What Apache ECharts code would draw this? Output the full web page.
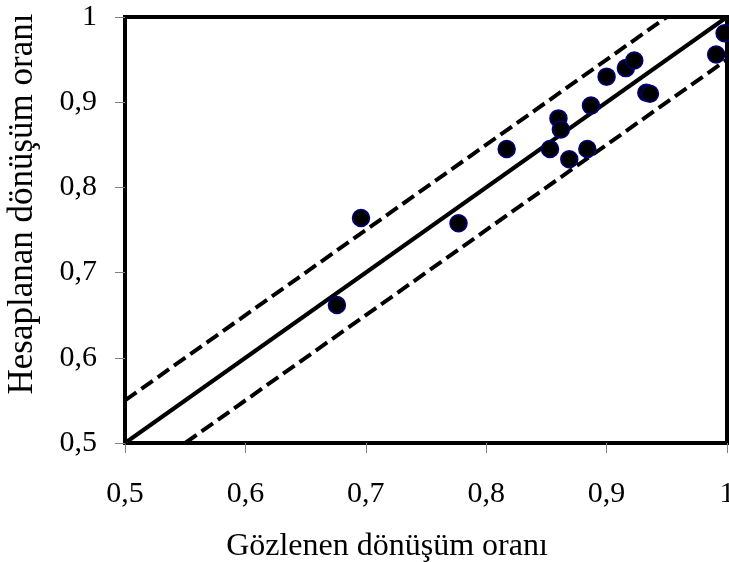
<!DOCTYPE html>
<html>
<head>
<meta charset="utf-8">
<script src="https://cdn.jsdelivr.net/npm/echarts@6/dist/echarts.min.js"></script>
<style>
  html, body { margin: 0; padding: 0; background: #fff; }
  #chart { width: 729px; height: 562px; }
</style>
</head>
<body>
<div id="chart"></div>
<script>
// Observed vs. calculated conversion ratio
var observed  = [0.676, 0.696, 0.777, 0.817, 0.853, 0.869, 0.884, 0.860, 0.862, 0.887, 0.900, 0.916, 0.923, 0.933, 0.936, 0.991, 0.998];
var predicted = [0.662, 0.764, 0.758, 0.845, 0.845, 0.833, 0.845, 0.881, 0.868, 0.896, 0.930, 0.940, 0.949, 0.911, 0.910, 0.956, 0.981];

// Parity line and ±0.05 band
var parityLine = [[0.5, 0.5], [1, 1]];
var upperBand  = [[0.5, 0.55], [0.95, 1]];
var lowerBand  = [[0.55, 0.5], [1, 0.95]];

var axisTicks = [0.5, 0.6, 0.7, 0.8, 0.9, 1];

var xTitle = 'Gözlenen dönüşüm oranı';
var yTitle = 'Hesaplanan dönüşüm oranı';

var points = observed.map(function (x, i) { return [x, predicted[i]]; });

function fmt(v) {
  var r = Math.round(v * 10) / 10;
  return r === 1 ? '1' : String(r).replace('.', ',');
}

var font = 'Liberation Serif, Times New Roman, serif';

var chart = echarts.init(document.getElementById('chart'));
chart.setOption({
  animation: false,
  grid: {
    left: 125, right: 2, top: 17, bottom: 119,
    containLabel: false, outerBoundsMode: 'none',
    show: true, borderColor: '#000', borderWidth: 4, backgroundColor: 'transparent'
  },
  graphic: [
    {
      type: 'text', x: 387, y: 547, silent: true,
      style: { text: xTitle, font: '32px ' + font, fill: '#000', align: 'center', verticalAlign: 'middle' }
    },
    {
      type: 'text', x: 23, y: 204, rotation: Math.PI / 2, silent: true,
      style: { text: yTitle, font: '35px ' + font, fill: '#000', align: 'center', verticalAlign: 'middle' }
    }
  ],
  xAxis: {
    type: 'value', min: axisTicks[0], max: axisTicks[axisTicks.length - 1], interval: 0.1,
    axisLine: { show: false },
    axisTick: { show: true, length: 10, inside: false, lineStyle: { color: '#808080', width: 1 } },
    splitLine: { show: false },
    axisLabel: { formatter: fmt, fontFamily: font, fontSize: 30, color: '#000', margin: 36, showMaxLabel: true, showMinLabel: true }
  },
  yAxis: {
    type: 'value', min: axisTicks[0], max: axisTicks[axisTicks.length - 1], interval: 0.1,
    axisLine: { show: false },
    axisTick: { show: true, length: 10, inside: false, lineStyle: { color: '#808080', width: 1 } },
    splitLine: { show: false },
    axisLabel: { formatter: fmt, fontFamily: font, fontSize: 30, color: '#000', margin: 28, showMaxLabel: true, showMinLabel: true }
  },
  series: [
    {
      type: 'line', data: parityLine, symbol: 'none', z: 2,
      lineStyle: { color: '#000', width: 4, type: 'solid' }
    },
    {
      type: 'line', data: upperBand, symbol: 'none', z: 2,
      lineStyle: { color: '#000', width: 4, type: [14, 6] }
    },
    {
      type: 'line', data: lowerBand, symbol: 'none', z: 2,
      lineStyle: { color: '#000', width: 4, type: [14, 6] }
    },
    {
      type: 'scatter', data: points, symbol: 'circle', symbolSize: 17, z: 5, clip: false,
      itemStyle: { color: '#000', borderColor: '#000080', borderWidth: 1.5, opacity: 1 }
    }
  ]
});
</script>
</body>
</html>
